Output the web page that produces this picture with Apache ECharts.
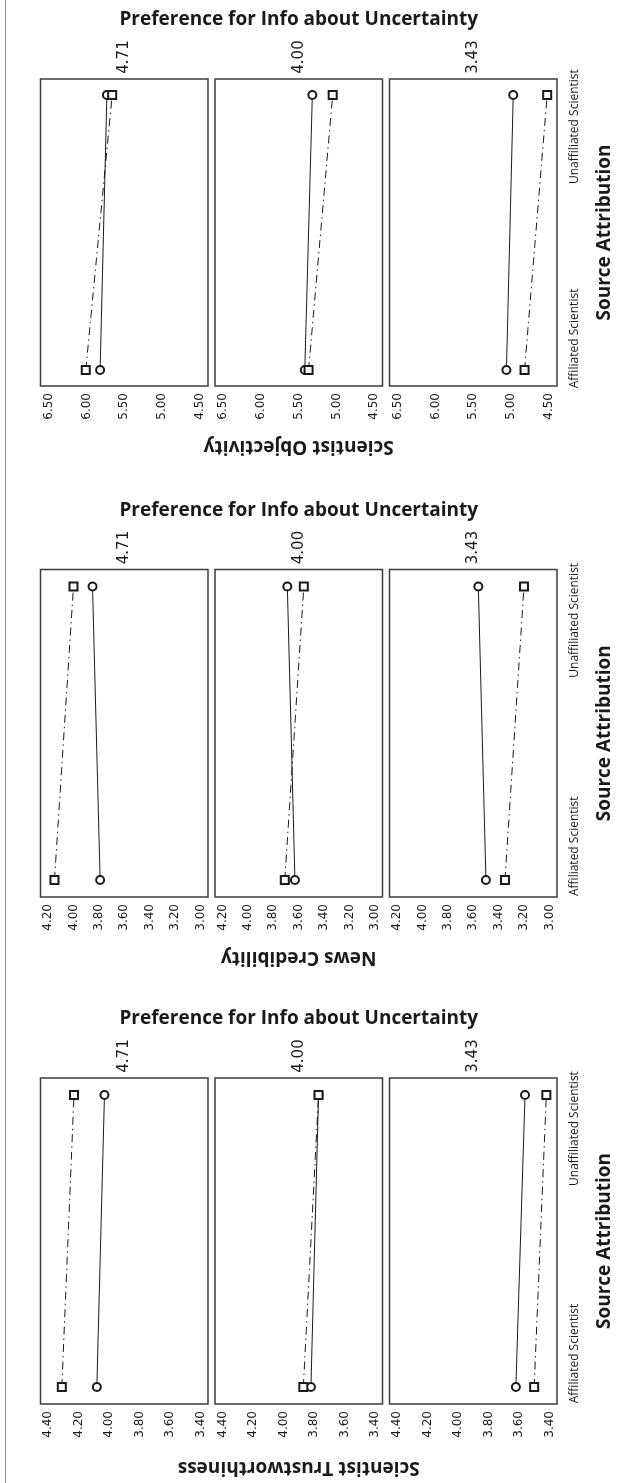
<!DOCTYPE html>
<html>
<head>
<meta charset="utf-8">
<script src="https://cdn.jsdelivr.net/npm/echarts@6/dist/echarts.min.js"></script>
<style>
  html, body { margin: 0; padding: 0; background: #fff; }
  #c { width: 627px; height: 1483px; }
</style>
</head>
<body>
<div id="c"></div>
<script>
// ---- data ----
const panels = ['4.71', '4.00', '3.43'];
const categories = ['Affiliated Scientist', 'Unaffiliated Scientist'];
const panelTitle = 'Preference for Info about Uncertainty';
const xTitle = 'Source Attribution';
const measures = ['Scientist Objectivity', 'News Credibility', 'Scientist Trustworthiness'];

const objTicks = ['6.50', '6.00', '5.50', '5.00', '4.50'];
const newsTicks = ['4.20', '4.00', '3.80', '3.60', '3.40', '3.20', '3.00'];
const trustTicks = ['4.40', '4.20', '4.00', '3.80', '3.60', '3.40'];

// values for panels 4.71, 4.00, 3.43
const objCircleAff = [5.82, 5.42, 5.06];
const objCircleUnaff = [5.73, 5.32, 4.97];
const objSquareAff = [6.01, 5.37, 4.82];
const objSquareUnaff = [5.66, 5.05, 4.52];

const newsCircleAff = [3.79, 3.63, 3.50];
const newsCircleUnaff = [3.85, 3.69, 3.56];
const newsSquareAff = [4.15, 3.71, 3.35];
const newsSquareUnaff = [4.00, 3.56, 3.20];

const trustCircleAff = [4.08, 3.82, 3.62];
const trustCircleUnaff = [4.03, 3.77, 3.56];
const trustSquareAff = [4.31, 3.87, 3.50];
const trustSquareUnaff = [4.23, 3.77, 3.42];

// ---- layout ----
const groups = [
  { name: measures[0], ticks: objTicks, min: 4.39, max: 6.61, nameGap: 60,
    circle: [objCircleAff, objCircleUnaff], square: [objSquareAff, objSquareUnaff], top: 79, bottom: 386 },
  { name: measures[1], ticks: newsTicks, min: 2.94, max: 4.26, nameGap: 60,
    circle: [newsCircleAff, newsCircleUnaff], square: [newsSquareAff, newsSquareUnaff], top: 569.5, bottom: 897 },
  { name: measures[2], ticks: trustTicks, min: 3.35, max: 4.45, nameGap: 63,
    circle: [trustCircleAff, trustCircleUnaff], square: [trustSquareAff, trustSquareUnaff], top: 1078, bottom: 1404 }
];
const panelLeft = [40.5, 215, 389.5];
const panelW = 167.5;
const ink = '#1a1a1a';
const boldFont = '"Open Sans", "DejaVu Sans", sans-serif';

const grid = [], xAxis = [], yAxis = [], series = [], graphic = [];

graphic.push({ type: 'line', shape: { x1: 5.5, y1: 0, x2: 5.5, y2: 1483 }, style: { stroke: '#888', lineWidth: 1 } });

groups.forEach((g, gi) => {
  graphic.push({
    type: 'text', x: panelLeft[0] + (panelLeft[2] + panelW - panelLeft[0]) / 2, y: g.top - 59,
    style: { text: panelTitle, font: 'bold 19px ' + boldFont, fill: ink, align: 'center', verticalAlign: 'middle' }
  });
  panels.forEach((p, pi) => {
    const idx = gi * 3 + pi;
    graphic.push({
      type: 'text', x: panelLeft[pi] + panelW / 2, y: g.top - 22, rotation: Math.PI / 2,
      style: { text: p, font: '15px "DejaVu Sans", sans-serif', fill: ink, align: 'center', verticalAlign: 'middle' }
    });
    grid.push({
      left: panelLeft[pi], top: g.top, width: panelW, height: g.bottom - g.top,
      show: true, borderColor: '#3c3c3c', borderWidth: 1.5, backgroundColor: 'transparent',
      containLabel: false, outerBoundsMode: 'none'
    });
    xAxis.push({
      type: 'value', gridIndex: idx, min: g.min, max: g.max, inverse: true,
      axisLine: { show: false }, axisTick: { show: false }, splitLine: { show: false },
      axisLabel: {
        customValues: g.ticks.map(Number),
        formatter: v => g.ticks.find(t => Math.abs(parseFloat(t) - v) < 1e-9) || v.toFixed(2),
        rotate: 90, margin: 7, fontFamily: '"DejaVu Sans", sans-serif', fontSize: 12, color: ink,
        align: 'right', verticalAlign: 'middle'
      },
      name: pi === 1 ? g.name : '', nameLocation: 'middle', nameGap: g.nameGap, nameRotate: 180,
      nameTextStyle: { fontFamily: boldFont, fontWeight: 'bold', fontSize: 19, color: ink, align: 'center', verticalAlign: 'middle' }
    });
    yAxis.push({
      type: 'value', gridIndex: idx, min: -0.058, max: 1.058, position: 'right',
      axisLine: { show: false }, axisTick: { show: false }, splitLine: { show: false },
      axisLabel: pi === 2 ? {
        customValues: [0.115, 0.885],
        formatter: v => categories[v < 0.5 ? 0 : 1],
        rotate: 90, margin: 18, fontFamily: '"Open Sans", sans-serif', fontSize: 12, color: ink,
        align: 'center', verticalAlign: 'middle'
      } : { show: false },
      name: pi === 2 ? xTitle : '', nameLocation: 'middle', nameGap: 48, nameRotate: 90,
      nameTextStyle: { fontFamily: boldFont, fontWeight: 'bold', fontSize: 19, color: ink, align: 'center', verticalAlign: 'middle' }
    });
    series.push({
      type: 'line', xAxisIndex: idx, yAxisIndex: idx,
      data: [[g.circle[0][pi], 0], [g.circle[1][pi], 1]],
      symbol: 'emptyCircle', symbolSize: 8, showAllSymbol: true,
      lineStyle: { color: ink, width: 1 }, itemStyle: { color: ink, borderWidth: 1 },
      z: 3, silent: true
    });
    series.push({
      type: 'line', xAxisIndex: idx, yAxisIndex: idx,
      data: [[g.square[0][pi], 0], [g.square[1][pi], 1]],
      symbol: 'emptyRect', symbolSize: 8, showAllSymbol: true,
      lineStyle: { color: ink, width: 1, type: [8, 4, 1.5, 4] }, itemStyle: { color: ink, borderWidth: 1 },
      z: 3, silent: true
    });
  });
});

const chart = echarts.init(document.getElementById('c'), null, { renderer: 'canvas', width: 627, height: 1483 });
chart.setOption({
  animation: false,
  backgroundColor: '#fff',
  grid, xAxis, yAxis, series, graphic
});
</script>
</body>
</html>
